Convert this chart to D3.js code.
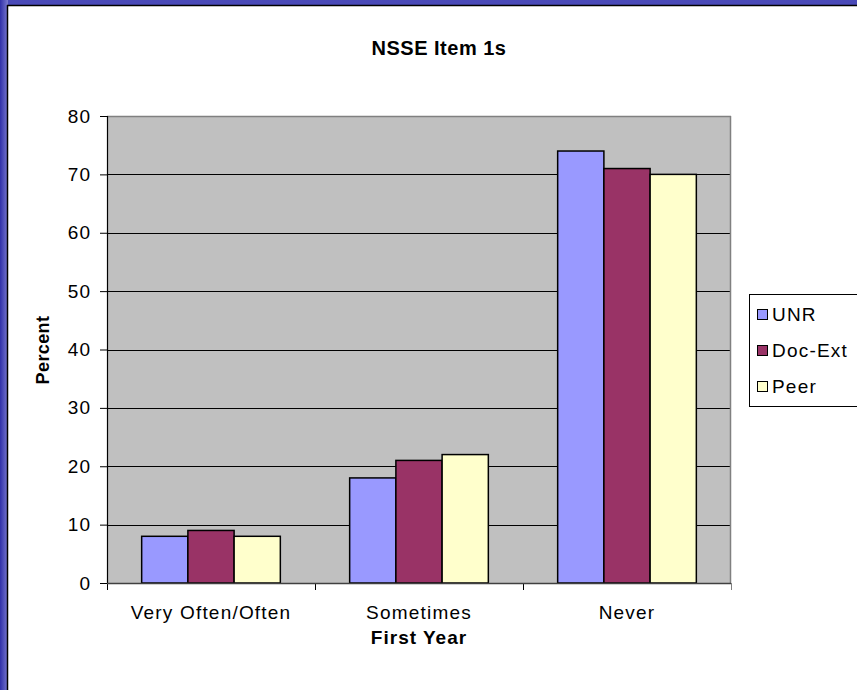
<!DOCTYPE html>
<html>
<head>
<meta charset="utf-8">
<script src="https://cdn.jsdelivr.net/npm/d3@7"></script>
<style>
  html, body { margin: 0; padding: 0; background: #fff; }
  svg { display: block; }
  text { font-family: Arial, "Liberation Sans", sans-serif; }
</style>
</head>
<body>
<svg id="chart" width="857" height="690"></svg>
<script>
const categories = ["Very Often/Often", "Sometimes", "Never"];
const seriesNames = ["UNR", "Doc-Ext", "Peer"];
const unrValues = [8, 18, 74];
const docExtValues = [9, 21, 71];
const peerValues = [8, 22, 70];
const yTicks = [0, 10, 20, 30, 40, 50, 60, 70, 80];
const seriesColors = ["#9999FF", "#993366", "#FFFFCC"];
const titleText = "NSSE Item 1s";
const xTitle = "First Year";
const yTitle = "Percent";

const seriesValues = [unrValues, docExtValues, peerValues];

const svg = d3.select("#chart");
const W = 857, H = 690;

// Background frame (blue gradient slide border)
const defs = svg.append("defs");
const lg = defs.append("linearGradient").attr("id", "bg").attr("x1", 0).attr("y1", 0).attr("x2", 0).attr("y2", 1);
lg.append("stop").attr("offset", "0%").attr("stop-color", "#4a4ab8");
lg.append("stop").attr("offset", "50%").attr("stop-color", "#5a5ac4");
lg.append("stop").attr("offset", "100%").attr("stop-color", "#7474cc");
const lg2 = defs.append("linearGradient").attr("id", "bgL").attr("x1", 0).attr("y1", 0).attr("x2", 1).attr("y2", 0);
lg2.append("stop").attr("offset", "0%").attr("stop-color", "#3030a8");
lg2.append("stop").attr("offset", "100%").attr("stop-color", "#7a7ad0");
svg.append("rect").attr("x", 0).attr("y", 0).attr("width", W).attr("height", H).attr("fill", "url(#bg)");
svg.append("rect").attr("x", 0).attr("y", 0).attr("width", 8).attr("height", H).attr("fill", "url(#bgL)");
svg.append("rect").attr("x", 7).attr("y", 5).attr("width", W - 7).attr("height", H - 5).attr("fill", "#ffffff");
svg.append("line").attr("x1", 7.5).attr("x2", 7.5).attr("y1", 5).attr("y2", H).attr("stroke", "#000").attr("stroke-width", 1.5);
svg.append("line").attr("x1", 7).attr("x2", W).attr("y1", 5.5).attr("y2", 5.5).attr("stroke", "#000").attr("stroke-width", 1.5);

const plot = { left: 107, top: 116, right: 731, bottom: 583 };

const x0 = d3.scaleBand().domain(categories).range([plot.left, plot.right]).padding(0);
const x1 = d3.scaleBand().domain(seriesNames).range([0, x0.bandwidth()]).paddingInner(0).paddingOuter(0.75);
const y = d3.scaleLinear().domain([0, 80]).range([plot.bottom, plot.top]);

// Plot area
svg.append("rect")
  .attr("x", plot.left).attr("y", plot.top)
  .attr("width", plot.right - plot.left).attr("height", plot.bottom - plot.top)
  .attr("fill", "#c0c0c0");

// Gridlines
svg.append("g").selectAll("line").data(yTicks.filter(t => t > 0 && t < 80)).join("line")
  .attr("x1", plot.left).attr("x2", plot.right)
  .attr("y1", d => Math.round(y(d)) + 0.5).attr("y2", d => Math.round(y(d)) + 0.5)
  .attr("stroke", "#000").attr("stroke-width", 1);

// top/right border
svg.append("line").attr("x1", plot.left).attr("x2", plot.right).attr("y1", plot.top + 0.5).attr("y2", plot.top + 0.5)
  .attr("stroke", "#808080").attr("stroke-width", 1.5);
svg.append("line").attr("x1", plot.right - 0.5).attr("x2", plot.right - 0.5).attr("y1", plot.top).attr("y2", plot.bottom)
  .attr("stroke", "#808080").attr("stroke-width", 1.5);

// Bars
const groups = svg.append("g").selectAll("g").data(categories).join("g")
  .attr("transform", d => `translate(${x0(d)},0)`);
groups.selectAll("rect").data((c, ci) => seriesNames.map((s, si) => ({ s, si, v: seriesValues[si][ci] }))).join("rect")
  .attr("x", d => x1(d.s))
  .attr("y", d => y(d.v))
  .attr("width", x1.bandwidth())
  .attr("height", d => y(0) - y(d.v))
  .attr("fill", d => seriesColors[d.si])
  .attr("stroke", "#000").attr("stroke-width", 1.5);

// Y axis
const yAxis = d3.axisLeft(y).tickValues(yTicks).tickSize(7).tickPadding(9);
const yg = svg.append("g").attr("transform", `translate(${plot.left},0)`).call(yAxis);
yg.select(".domain").attr("stroke", "#000").attr("stroke-width", 1.2);
yg.selectAll(".tick line").attr("stroke", "#000");
yg.selectAll(".tick text").attr("font-size", 19).attr("fill", "#000").style("letter-spacing", "1px")
  .attr("font-family", "Arial, 'Liberation Sans', sans-serif");

// X axis
const xAxis = d3.axisBottom(x0).tickSize(0).tickPadding(23);
const xg = svg.append("g").attr("transform", `translate(0,${plot.bottom})`).call(xAxis);
xg.select(".domain").remove();
xg.selectAll(".tick text").attr("font-size", 19).attr("fill", "#000").style("letter-spacing", "1.2px")
  .attr("font-family", "Arial, 'Liberation Sans', sans-serif");
// category boundary tick marks
const boundaries = [plot.left].concat(categories.map(c => x0(c) + x0.bandwidth()));
svg.append("g").selectAll("line").data(boundaries).join("line")
  .attr("x1", d => d + 0.5).attr("x2", d => d + 0.5)
  .attr("y1", plot.bottom).attr("y2", plot.bottom + 7)
  .attr("stroke", (d, i) => i === boundaries.length - 1 ? "#808080" : "#000");
svg.append("line").attr("x1", plot.left).attr("x2", plot.right).attr("y1", plot.bottom + 0.5).attr("y2", plot.bottom + 0.5)
  .attr("stroke", "#404040").attr("stroke-width", 1.5);

// Titles
svg.append("text").attr("x", 439).attr("y", 55).attr("text-anchor", "middle")
  .attr("font-size", 20).attr("font-weight", "bold").style("letter-spacing", "0.5px").text(titleText);
svg.append("text").attr("x", 419).attr("y", 644).attr("text-anchor", "middle")
  .attr("font-size", 19).attr("font-weight", "bold").style("letter-spacing", "1px").text(xTitle);
svg.append("text").attr("transform", "translate(49,350) rotate(-90)").attr("text-anchor", "middle")
  .attr("font-size", 18).attr("font-weight", "bold").style("letter-spacing", "0.4px").text(yTitle);

// Legend
const legend = svg.append("g");
legend.append("rect").attr("x", 749.5).attr("y", 294.5).attr("width", 120).attr("height", 112)
  .attr("fill", "#fff").attr("stroke", "#000").attr("stroke-width", 1);
const legY = d3.scalePoint().domain(seriesNames).range([314, 386]);
const items = legend.selectAll("g.item").data(seriesNames).join("g").attr("class", "item")
  .attr("transform", d => `translate(0,${legY(d)})`);
items.append("rect").attr("x", 757.5).attr("y", -4.5).attr("width", 10).attr("height", 10)
  .attr("fill", (d, i) => seriesColors[i]).attr("stroke", "#000").attr("stroke-width", 1);
items.append("text").attr("x", 772).attr("y", 7).attr("font-size", 19).style("letter-spacing", "1.2px").text(d => d);
</script>
</body>
</html>
